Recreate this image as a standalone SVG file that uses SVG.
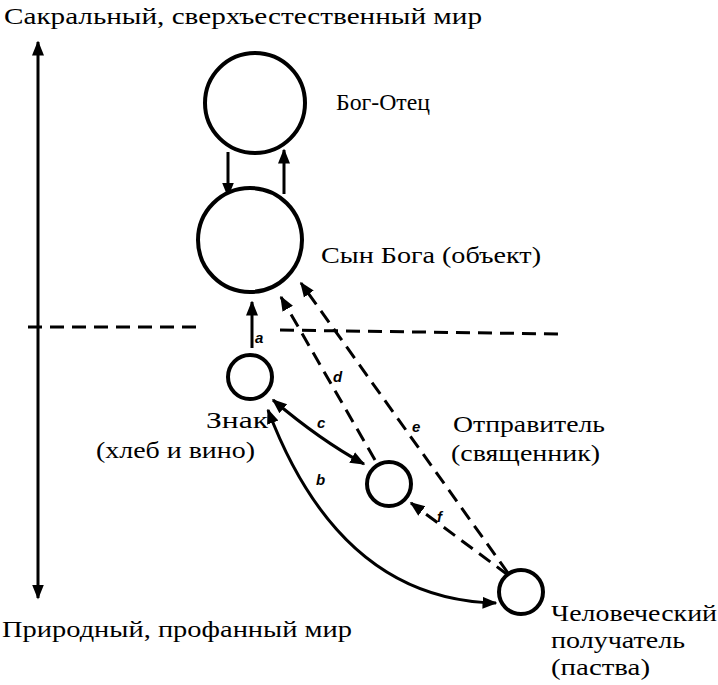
<svg xmlns="http://www.w3.org/2000/svg" width="718" height="685" viewBox="0 0 718 685">
<style>
text{font-family:"Liberation Serif",serif;font-size:24px;fill:#000}
.l{font-family:"Liberation Sans",sans-serif;font-style:italic;font-weight:bold;font-size:15px}
.n{fill:#fff;stroke:#000;stroke-width:4}
.s{fill:none;stroke:#000;stroke-width:3}
.d{fill:none;stroke:#000;stroke-width:3;stroke-dasharray:14 8}
</style>
<defs>
<marker id="a" viewBox="0 0 10 10" refX="9" refY="5" markerWidth="5" markerHeight="5" orient="auto-start-reverse"><path d="M0,1 L10,5 L0,9 z"/></marker>
</defs>
<rect width="718" height="685" fill="#fff"/>
<g id="connectors">
<line class="s" x1="38" y1="42" x2="38" y2="598" marker-start="url(#a)" marker-end="url(#a)"/>
<line class="d" x1="28" y1="327" x2="200" y2="327"/>
<line class="d" x1="280" y1="330" x2="560" y2="334"/>
<line class="s" x1="228" y1="152" x2="228" y2="196" marker-end="url(#a)"/>
<line class="s" x1="284" y1="194" x2="284" y2="150" marker-end="url(#a)"/>
<line class="s" x1="252" y1="348" x2="252" y2="302" marker-end="url(#a)"/>
<line class="d" x1="375" y1="460" x2="281" y2="297" marker-end="url(#a)"/>
<line class="d" x1="508" y1="573" x2="301" y2="283" marker-end="url(#a)"/>
<line class="d" x1="508" y1="575" x2="411" y2="503" marker-end="url(#a)"/>
<path class="s" d="M273,400 Q320,440 364,464" marker-start="url(#a)" marker-end="url(#a)"/>
<path class="s" d="M268,410 Q340,600 496,603" marker-start="url(#a)" marker-end="url(#a)"/>
<text class="l" x="255" y="343">a</text>
<text class="l" x="316" y="485">b</text>
<text class="l" x="317" y="428">c</text>
<text class="l" x="333" y="382">d</text>
<text class="l" x="412" y="432">e</text>
<text class="l" x="437" y="522">f</text>
</g>
<g id="father"><circle class="n" cx="255" cy="103" r="50"/><text x="336" y="110" textLength="94" lengthAdjust="spacingAndGlyphs">Бог-Отец</text></g>
<g id="son"><circle class="n" cx="250" cy="240" r="52"/><text x="321" y="263" textLength="220" lengthAdjust="spacingAndGlyphs">Сын Бога (объект)</text></g>
<g id="sign"><circle class="n" cx="250" cy="377" r="22"/><text x="206" y="428" textLength="62" lengthAdjust="spacingAndGlyphs">Знак</text><text x="96" y="458" textLength="159" lengthAdjust="spacingAndGlyphs">(хлеб и вино)</text></g>
<g id="sender"><circle class="n" cx="389" cy="484" r="22"/><text x="453" y="432" textLength="152" lengthAdjust="spacingAndGlyphs">Отправитель</text><text x="451" y="461" textLength="149" lengthAdjust="spacingAndGlyphs">(священник)</text></g>
<g id="receiver"><circle class="n" cx="521" cy="592" r="22"/><text x="551" y="621" textLength="166" lengthAdjust="spacingAndGlyphs">Человеческий</text><text x="551" y="648" textLength="134" lengthAdjust="spacingAndGlyphs">получатель</text><text x="551" y="675" textLength="99" lengthAdjust="spacingAndGlyphs">(паства)</text></g>
<text x="4" y="24" textLength="478" lengthAdjust="spacingAndGlyphs">Сакральный, сверхъестественный мир</text>
<text x="2" y="637" textLength="350" lengthAdjust="spacingAndGlyphs">Природный, профанный мир</text>
</svg>
